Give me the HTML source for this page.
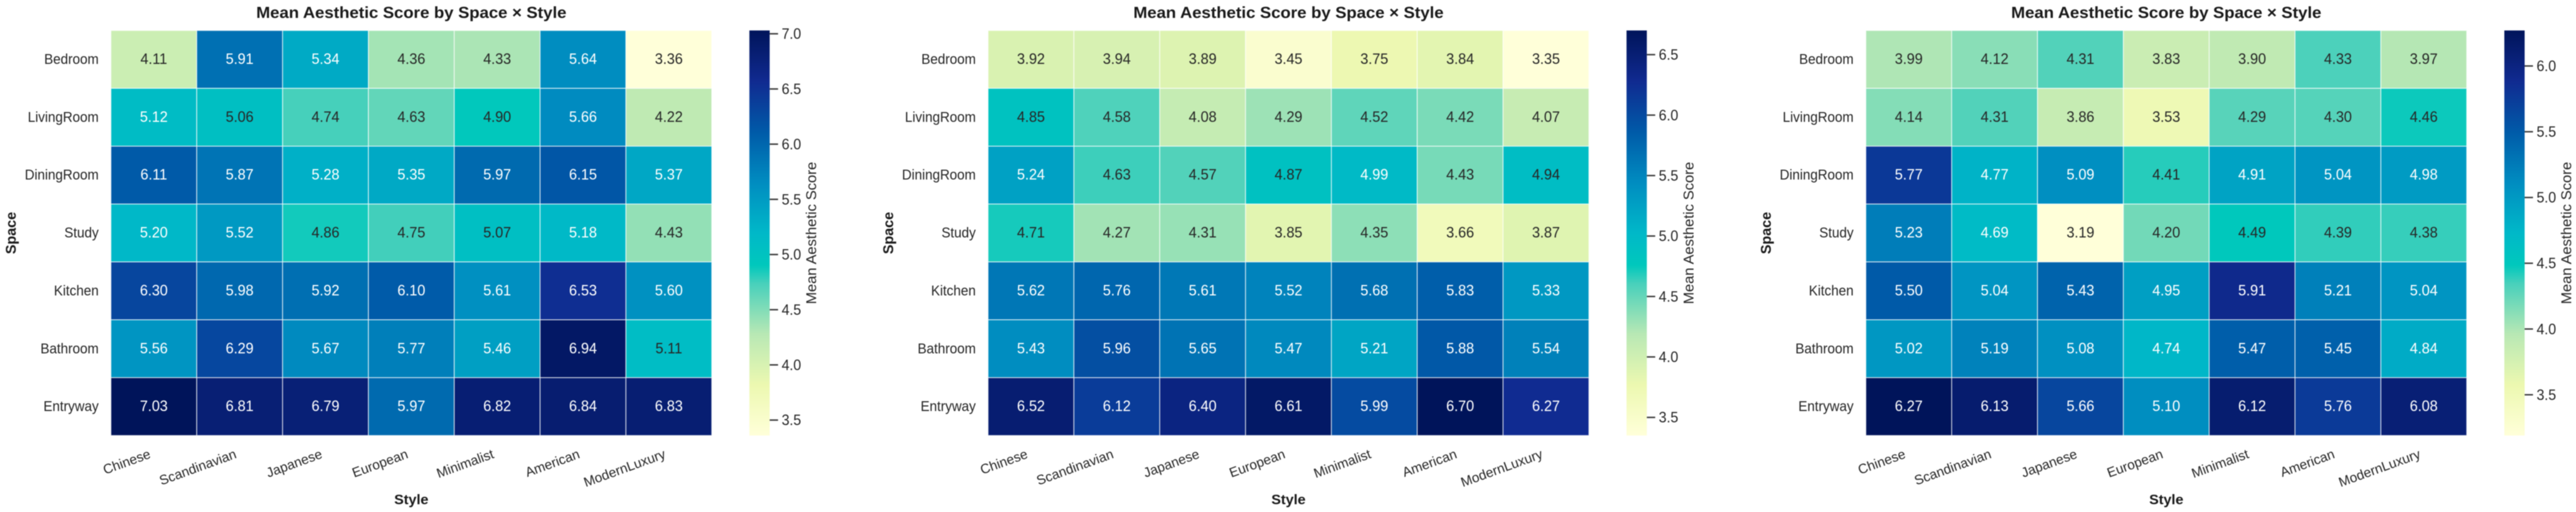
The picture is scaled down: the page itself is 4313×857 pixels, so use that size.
<!DOCTYPE html>
<html>
<head>
<meta charset="utf-8">
<title>Mean Aesthetic Score by Space × Style</title>
<style>
html,body{margin:0;padding:0;background:#fff;}
body{width:4313px;height:857px;overflow:hidden;}
svg{display:block;filter:blur(0.7px);}
text{font-family:"Liberation Sans",Arial,sans-serif;}
</style>
</head>
<body>
<svg id="chart" xmlns="http://www.w3.org/2000/svg" width="4313" height="857" viewBox="0 0 4313 857"></svg>
<script>
const spaces = ["Bedroom", "LivingRoom", "DiningRoom", "Study", "Kitchen", "Bathroom", "Entryway"];
const styles = ["Chinese", "Scandinavian", "Japanese", "European", "Minimalist", "American", "ModernLuxury"];

const scoresA = [
  [4.11, 5.91, 5.34, 4.36, 4.33, 5.64, 3.36],
  [5.12, 5.06, 4.74, 4.63, 4.90, 5.66, 4.22],
  [6.11, 5.87, 5.28, 5.35, 5.97, 6.15, 5.37],
  [5.20, 5.52, 4.86, 4.75, 5.07, 5.18, 4.43],
  [6.30, 5.98, 5.92, 6.10, 5.61, 6.53, 5.60],
  [5.56, 6.29, 5.67, 5.77, 5.46, 6.94, 5.11],
  [7.03, 6.81, 6.79, 5.97, 6.82, 6.84, 6.83]
];
const scoresB = [
  [3.92, 3.94, 3.89, 3.45, 3.75, 3.84, 3.35],
  [4.85, 4.58, 4.08, 4.29, 4.52, 4.42, 4.07],
  [5.24, 4.63, 4.57, 4.87, 4.99, 4.43, 4.94],
  [4.71, 4.27, 4.31, 3.85, 4.35, 3.66, 3.87],
  [5.62, 5.76, 5.61, 5.52, 5.68, 5.83, 5.33],
  [5.43, 5.96, 5.65, 5.47, 5.21, 5.88, 5.54],
  [6.52, 6.12, 6.40, 6.61, 5.99, 6.70, 6.27]
];
const scoresC = [
  [3.99, 4.12, 4.31, 3.83, 3.90, 4.33, 3.97],
  [4.14, 4.31, 3.86, 3.53, 4.29, 4.30, 4.46],
  [5.77, 4.77, 5.09, 4.41, 4.91, 5.04, 4.98],
  [5.23, 4.69, 3.19, 4.20, 4.49, 4.39, 4.38],
  [5.50, 5.04, 5.43, 4.95, 5.91, 5.21, 5.04],
  [5.02, 5.19, 5.08, 4.74, 5.47, 5.45, 4.84],
  [6.27, 6.13, 5.66, 5.10, 6.12, 5.76, 6.08]
];
const ticksA = [3.5, 4.0, 4.5, 5.0, 5.5, 6.0, 6.5, 7.0];
const ticksB = [3.5, 4.0, 4.5, 5.0, 5.5, 6.0, 6.5];
const ticksC = [3.5, 4.0, 4.5, 5.0, 5.5, 6.0];

const chartTitle = "Mean Aesthetic Score by Space × Style";
const xTitle = "Style";
const yTitle = "Space";
const colorbarTitle = "Mean Aesthetic Score";

// Layout and colour map
const NS = "http://www.w3.org/2000/svg";
const TOP = 51, BOTTOM = 729, MAP_W = 1006, CB_GAP = 63, CB_W = 34;
const RAMP = [
  [0, "#ffffd9"], [0.125, "#ecf8b0"], [0.25, "#b8e8b4"], [0.375, "#48d0bb"],
  [0.42, "#00c8bc"], [0.5, "#00b8c8"], [0.625, "#008cc0"], [0.75, "#005aa8"],
  [0.875, "#102a90"], [1, "#00145a"]
];
const svg = document.getElementById("chart");

function hexToRgb(h) {
  return [1, 3, 5].map(i => parseInt(h.substr(i, 2), 16));
}
function ramp(t) {
  t = Math.max(0, Math.min(1, t));
  for (let i = 1; i < RAMP.length; i++) {
    if (t <= RAMP[i][0]) {
      const a = RAMP[i - 1], b = RAMP[i];
      const f = (t - a[0]) / (b[0] - a[0]);
      const ca = hexToRgb(a[1]), cb = hexToRgb(b[1]);
      return "rgb(" + ca.map((v, k) => Math.round(v + (cb[k] - v) * f)).join(",") + ")";
    }
  }
  return RAMP[RAMP.length - 1][1];
}
function make(tag, parent, attrs, name) {
  const el = document.createElementNS(NS, tag);
  for (const k in attrs) el.setAttribute(k, attrs[k]);
  
  
  parent.appendChild(el);
  return el;
}
function label(parent, x, y, str, size, name, o) {
  o = o || {};
  const ky = o.ky || 1.05;
  const el = make("text", parent, {
    transform: "translate(" + x + "," + y + ") scale(1," + ky + ") rotate(" + (o.rot || 0) + ")",
    "font-size": size,
    "font-weight": o.bold ? "bold" : "normal",
    "text-anchor": o.anchor || "middle",
    fill: o.fill || "#262626"
  }, name);
  el.textContent = str;
  return el;
}
function slug(s) {
  return s.toLowerCase();
}

function drawPanel(idx, left, scores, ticks) {
  const g = make("g", svg, {}, "heatmap-panel-" + idx);
  const flat = scores.flat();
  const vmin = Math.min.apply(null, flat);
  const vmax = Math.max.apply(null, flat);
  const norm = v => (v - vmin) / (vmax - vmin);
  const colW = MAP_W / styles.length;
  const rowH = (BOTTOM - TOP) / spaces.length;
  const xAt = i => left + colW * i;
  const yAt = j => TOP + rowH * j;
  const cbY = v => BOTTOM - norm(v) * (BOTTOM - TOP);

  label(g, left + MAP_W / 2, 30, chartTitle, 28, "chart-title", { bold: true, ky: 0.97, fill: "#1a1a1a" });

  scores.forEach((row, j) => {
    row.forEach((v, i) => {
      const cellName = "cell-" + slug(spaces[j]) + "-" + slug(styles[i]);
      make("rect", g, {
        x: xAt(i), y: yAt(j), width: colW, height: rowH,
        fill: ramp(norm(v)), stroke: "#ffffff", "stroke-width": 1.4, "stroke-opacity": 0.75
      }, cellName);
    });
  });
  scores.forEach((row, j) => {
    row.forEach((v, i) => {
      const fill = norm(v) > 0.478 ? "#ffffff" : "#262626";
      label(g, xAt(i) + colW / 2, yAt(j) + rowH / 2 + 7.6, v.toFixed(2), 24, "cell-value", { fill: fill });
    });
  });

  spaces.forEach((s, j) => {
    label(g, left - 20.5, yAt(j) + rowH / 2 + 7.6, s, 22.5, "y-tick-label", { anchor: "end" });
  });
  styles.forEach((s, i) => {
    label(g, xAt(i) + colW / 2 - 4, 766, s, 22.5, "x-tick-label", { anchor: "end", rot: -20, ky: 1 });
  });
  label(g, left + MAP_W / 2, 844, xTitle, 24, "x-axis-title", { bold: true, ky: 0.97, fill: "#1a1a1a" });
  label(g, left - 159, (TOP + BOTTOM) / 2, yTitle, 24, "y-axis-title", { bold: true, ky: 1, rot: -90, fill: "#1a1a1a" });

  // Colorbar
  const cbX = left + MAP_W + CB_GAP;
  const gradId = "cb-grad-" + idx;
  const defs = make("defs", g, {}, "colorbar-defs");
  const grad = make("linearGradient", defs, { id: gradId, x1: 0, y1: 1, x2: 0, y2: 0 }, "colorbar-gradient");
  RAMP.forEach(st => {
    make("stop", grad, { offset: st[0], "stop-color": st[1] }, "colorbar-stop");
  });
  make("rect", g, { x: cbX, y: TOP, width: CB_W, height: BOTTOM - TOP, fill: "url(#" + gradId + ")" }, "colorbar");
  ticks.forEach(t => {
    const y = cbY(t);
    make("line", g, { x1: cbX + CB_W, x2: cbX + CB_W + 14, y1: y, y2: y, stroke: "#3a3a3a", "stroke-width": 2.4 }, "colorbar-tick");
    label(g, cbX + CB_W + 20, y + 8.6, t.toFixed(1), 23.5, "colorbar-tick-label", { anchor: "start" });
  });
  label(g, cbX + CB_W + 78, (TOP + BOTTOM) / 2, colorbarTitle, 24.5, "colorbar-title", { rot: -90, ky: 1 });
}

drawPanel(1, 185.7, scoresA, ticksA);
drawPanel(2, 1654.3, scoresB, ticksB);
drawPanel(3, 3124, scoresC, ticksC);
</script>
</body>
</html>
